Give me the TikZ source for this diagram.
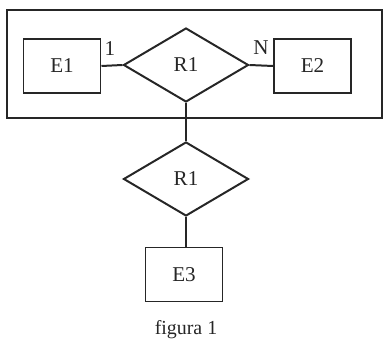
\documentclass[tikz,border=0pt]{standalone}
\usepackage{fontspec}
\setmainfont{Liberation Serif}
\usetikzlibrary{shapes.geometric,positioning}
\def \px {0.03cm}
\tikzstyle{entity} = [draw,line width=1.7pt,rectangle,minimum width=77*\px,minimum height=54*\px,inner sep=0,font=\fontsize{18}{21}\selectfont]
\tikzstyle{relation} = [draw,line width=1.7pt,diamond,minimum width=125*\px,minimum height=74*\px,inner sep=0,font=\fontsize{18}{21}\selectfont]
\tikzstyle{link} = [-,line width=1.7pt]
\tikzstyle{card} = [font=\fontsize{18}{21}\selectfont,inner sep=0]

\begin{document}
\begin{tikzpicture}[x=\px,y=\px,color=black!85]
      \useasboundingbox (0,0) rectangle (384,-343);
      \node[draw,line width=1.7pt,minimum width=375*\px,minimum height=108*\px,inner sep=0] (frame) at (194.5,-64) {};
      \node[relation] (r1) at (186,-65) {R1};
      \node[entity] (e1) at (62,-66) {E1};
      \node[entity] (e2) at (312.5,-66) {E2};
      \node[relation] (r2) at (186,-179) {R1};
      \node[entity] (e3) at (184,-274.5) {E3};
      \node[card] (one) at (110,-49) {1};
      \node[card] (many) at (261,-48) {N};
      \node[font=\fontsize{17}{20}\selectfont] (caption) at (186,-330) {figura 1};
      \draw[link] (e1.east) -- (r1.west);
      \draw[link] (r1.east) -- (e2.west);
      \draw[link] (r1.south) -- (r2.north);
      \draw[link] (r2.south) -- (r2.south |- e3.north);
    \end{tikzpicture}
\end{document}
